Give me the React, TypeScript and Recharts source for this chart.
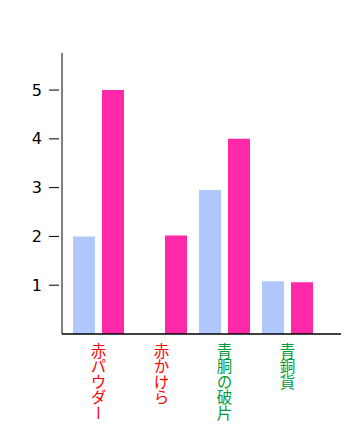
import { Bar, BarChart, XAxis, YAxis } from "recharts";

const categories = ["赤パウダー", "赤かけら", "青胴の破片", "青銅貨"];
const blueValues = [2, 0, 2.95, 1.08];
const pinkValues = [5, 2.02, 4, 1.06];
const yTicks = [1, 2, 3, 4, 5];

const labelColor = (i: number) => (i < 2 ? "#ff0000" : "#009a3a");

const data = categories.map((name, i) => ({
  name,
  blue: blueValues[i],
  pink: pinkValues[i],
}));

function CategoryTick(props: any) {
  const { x, y, payload, index } = props;
  return (
    <text
      x={x}
      y={y + 1}
      fill={labelColor(index)}
      fontSize={15.5}
      fontFamily="'Noto Sans CJK JP', sans-serif"
      style={{ writingMode: "vertical-rl" } as any}
      textAnchor="start"
    >
      {payload.value}
    </text>
  );
}

function ValueTick(props: any) {
  const { x, y, payload } = props;
  return (
    <g>
      <line x1={x - 5} x2={x + 5} y1={y} y2={y} stroke="#000" />
      <text
        x={x - 12}
        y={y}
        dy={5.5}
        textAnchor="end"
        fontSize={16}
        fontFamily="'DejaVu Sans', sans-serif"
        fill="#000"
      >
        {payload.value}
      </text>
    </g>
  );
}

export default function App() {
  return (
    <div style={{ position: "absolute", left: 0, top: 0, background: "#fff" }}>
      <BarChart
        width={350}
        height={430}
        data={data}
        margin={{ top: 53, right: 9, bottom: 0, left: 2 }}
        barSize={22}
        barGap={7}
      >
        <XAxis
          dataKey="name"
          height={96}
          axisLine={{ stroke: "#000", strokeWidth: 1.5 }}
          tickLine={false}
          tick={<CategoryTick />}
          interval={0}
          padding={{ left: 5, right: 22 }}
        />
        <YAxis
          width={60}
          domain={[0, 5.76]}
          ticks={yTicks}
          axisLine={{ stroke: "#000" }}
          tickLine={false}
          tick={<ValueTick />}
          allowDataOverflow
        />
        <Bar dataKey="blue" fill="#b0c8ff" isAnimationActive={false} />
        <Bar dataKey="pink" fill="#ff28a8" isAnimationActive={false} />
      </BarChart>
    </div>
  );
}
